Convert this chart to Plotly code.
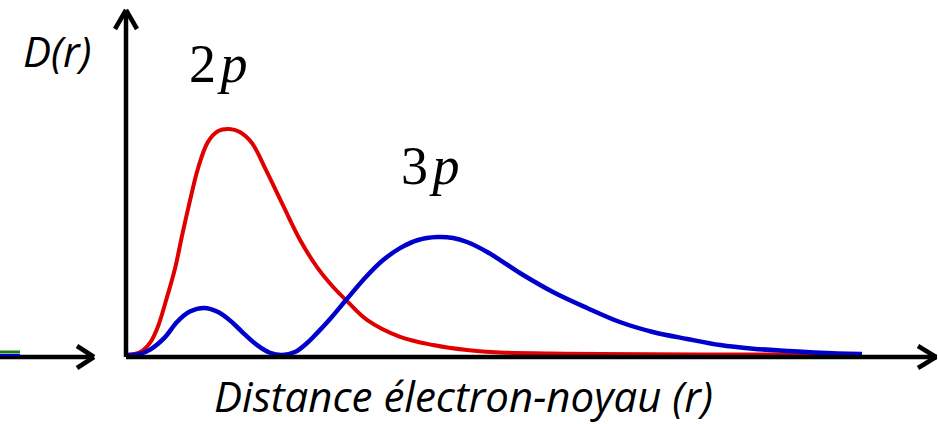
import plotly.graph_objects as go

# distribution radiale D(r) (unites arbitraires)
r_2p = [0.00, 0.35, 0.63, 0.84, 1.06, 1.31, 1.50, 1.71, 1.93, 2.20, 2.48, 2.78, 3.07, 3.40,
        3.78, 4.24, 4.71, 5.17, 5.61, 5.96, 6.53, 7.43, 8.33, 9.25, 10.15, 11.51, 12.87,
        15.59, 20.00]
d_2p = [0.000, 0.012, 0.055, 0.125, 0.240, 0.385, 0.530, 0.680, 0.825, 0.942, 0.991, 1.000,
        0.987, 0.938, 0.819, 0.664, 0.509, 0.389, 0.301, 0.243, 0.155, 0.080, 0.044, 0.022,
        0.011, 0.007, 0.004, 0.002, 0.002]

r_3p = [0.00, 0.35, 0.63, 1.03, 1.36, 1.71, 2.10, 2.48, 2.88, 3.21, 3.54, 3.89, 4.22, 4.57,
        4.90, 5.17, 5.55, 5.96, 6.50, 6.97, 7.43, 7.92, 8.44, 8.87, 9.25, 9.80, 10.69,
        11.59, 12.52, 13.41, 14.31, 15.24, 16.14, 17.03, 17.96, 18.86, 20.00]
d_3p = [0.000, 0.005, 0.024, 0.078, 0.146, 0.192, 0.208, 0.190, 0.142, 0.090, 0.044, 0.010,
        0.000, 0.013, 0.053, 0.097, 0.164, 0.243, 0.345, 0.420, 0.473, 0.509, 0.522, 0.518,
        0.500, 0.456, 0.363, 0.279, 0.208, 0.146, 0.102, 0.071, 0.044, 0.028, 0.018,
        0.010, 0.004]

W, H = 938, 424


def px(x):
    return x / W


def py(y):
    return 1 - y / H


fig = go.Figure()
fig.add_trace(go.Scatter(x=r_2p, y=d_2p, mode='lines', line=dict(color='#e10000', width=4, shape='spline', smoothing=1.0)))
fig.add_trace(go.Scatter(x=r_3p, y=d_3p, mode='lines', line=dict(color='#0000cc', width=4.5, shape='spline', smoothing=1.0)))

# axes fleches
k = dict(color='black', width=4.5)
segs = [
    ((126, 357), (937, 357)), ((918, 346), (936, 357)), ((918, 368), (936, 357)),
    ((126, 357), (126, 10)), ((115, 29), (126, 10)), ((137, 29), (126, 10)),
    ((0, 357), (94, 357)), ((77, 346), (94, 357)), ((77, 368), (94, 357)),
]
shapes = [dict(type='line', xref='paper', yref='paper', x0=px(a[0]), y0=py(a[1]),
               x1=px(b[0]), y1=py(b[1]), line=k) for a, b in segs]
# restes du graphique voisin a gauche
shapes.append(dict(type='line', xref='paper', yref='paper', x0=0, y0=py(352), x1=px(20), y1=py(352),
                   line=dict(color='#1a7a1a', width=3)))
shapes.append(dict(type='line', xref='paper', yref='paper', x0=0, y0=py(355), x1=px(20), y1=py(355),
                   line=dict(color='#0000cc', width=2)))

ann = [
    dict(text='<i>D(r)</i>', x=px(57), y=py(51), font=dict(family='Open Sans', size=42)),
    dict(text='2\u200a<i>p</i>', x=px(218), y=py(64), font=dict(family='Liberation Serif', size=54)),
    dict(text='3\u200a<i>p</i>', x=px(430), y=py(166), font=dict(family='Liberation Serif', size=54)),
    dict(text='<i>Distance électron-noyau (r)</i>', x=px(463), y=py(395),
         font=dict(family='Open Sans', size=42)),
]
for a in ann:
    a.update(xref='paper', yref='paper', showarrow=False, xanchor='center', yanchor='middle')
    a['font']['color'] = 'black'

fig.update_layout(
    width=W, height=H, margin=dict(l=0, r=0, t=0, b=0),
    plot_bgcolor='white', paper_bgcolor='white', showlegend=False,
    xaxis=dict(range=[-127 / 36.75, (W - 127) / 36.75], visible=False),
    yaxis=dict(range=[(355 - H) / 226, 355 / 226], visible=False),
    shapes=shapes, annotations=ann,
)

fig.write_html("out.html", config={'displayModeBar': False},
               post_script="document.body.style.margin='0';")
